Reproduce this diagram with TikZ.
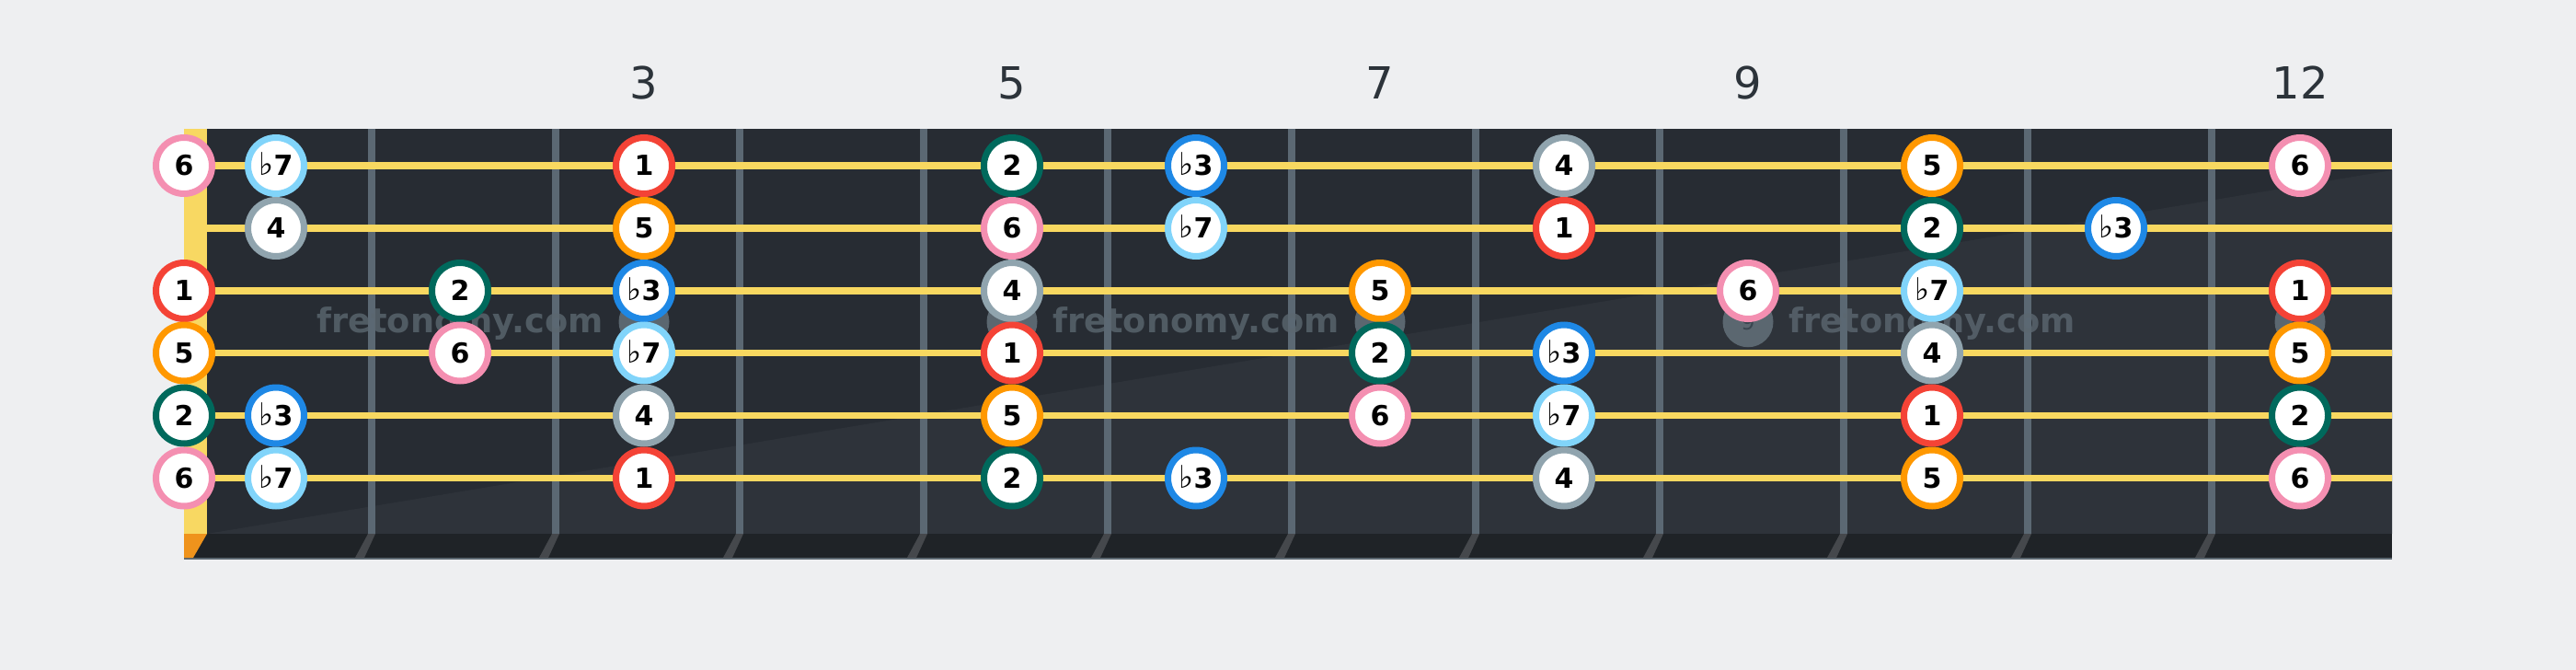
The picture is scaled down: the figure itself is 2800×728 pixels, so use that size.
\documentclass[tikz,border=0pt]{standalone}
\usepackage{fontspec}
\setmainfont{DejaVu Sans}
\usepackage{tikz}
\usetikzlibrary{positioning}
\usetikzlibrary{backgrounds}
\definecolor{bgcol}{HTML}{EEEFF1}
\definecolor{boardcol}{HTML}{272C33}
\definecolor{boardlight}{HTML}{2E333A}
\definecolor{footcol}{HTML}{1F2327}
\definecolor{fretcol}{HTML}{5B6873}
\definecolor{fretfootcol}{HTML}{45484C}
\definecolor{strcol}{HTML}{F8D860}
\definecolor{nutcol}{HTML}{F8D862}
\definecolor{nutfootcol}{HTML}{EF931C}
\definecolor{dotcol}{HTML}{5B6770}
\definecolor{dottext}{HTML}{3A4650}
\definecolor{numcol}{HTML}{2C333A}
\definecolor{col1}{HTML}{F44336}
\definecolor{col2}{HTML}{00695C}
\definecolor{col3}{HTML}{1E88E5}
\definecolor{col4}{HTML}{90A4AE}
\definecolor{col5}{HTML}{FF9800}
\definecolor{col6}{HTML}{F48FB1}
\definecolor{col7}{HTML}{81D4FA}
\newcommand{\flatsign}{{\mdseries\fontsize{34}{34}\selectfont ♭}}

\begin{document}
\begin{tikzpicture}[
  x = 1pt,
  y = -1pt,
  note/.style = {
    draw,
    circle,
    fill = white,
    line width = 7pt,
    minimum size = 61pt,
    inner sep = 0pt,
    text height = 21.5pt,
    text depth = 0pt,
    font = \bfseries\fontsize{30}{30}\selectfont,
  },
  deg1/.style = {note, draw = col1},
  deg2/.style = {note, draw = col2},
  deg3/.style = {note, draw = col3},
  deg4/.style = {note, draw = col4},
  deg5/.style = {note, draw = col5},
  deg6/.style = {note, draw = col6},
  deg7/.style = {note, draw = col7},
  gstring/.style = {
    draw = strcol,
    line width = 7.5pt,
  },
  fretwire/.style = {
    draw = fretcol,
    line width = 8pt,
  },
  fretfoot/.style = {
    fill = fretfootcol,
  },
  inlay/.style = {
    circle,
    fill = dotcol,
    minimum size = 55pt,
    inner sep = 0pt,
    text = dottext,
    font = \fontsize{24}{24}\selectfont,
  },
  fretnum/.style = {
    text = numcol,
    inner sep = 0pt,
    text depth = 0pt,
    font = \fontsize{48}{48}\selectfont,
  },
  wmark/.style = {
    text = dotcol,
    opacity = 0.8,
    inner sep = 0pt,
    anchor = base,
    font = \bfseries\fontsize{36.7}{36.7}\selectfont,
  },
]

  % page and board
  \fill[bgcol] (0,0) rectangle (2800,728);
  \fill[boardcol] (225,140) rectangle (2600,580);
  \fill[boardlight] (225,580) -- (2600,185) -- (2600,580) -- cycle;
  \fill[footcol] (200,580) rectangle (2600,608);
  \draw[dotcol, line width = 2pt] (200,607) -- (2600,607);
  \fill[nutcol] (200,140) rectangle (225,580);
  \fill[nutfootcol] (200,580) -- (225,580) -- (210,606) -- (200,606) -- cycle;

  % frets
  \draw[fretwire] (404,140) -- (404,580);
  \draw[fretwire] (604,140) -- (604,580);
  \draw[fretwire] (804,140) -- (804,580);
  \draw[fretwire] (1004,140) -- (1004,580);
  \draw[fretwire] (1204,140) -- (1204,580);
  \draw[fretwire] (1404,140) -- (1404,580);
  \draw[fretwire] (1604,140) -- (1604,580);
  \draw[fretwire] (1804,140) -- (1804,580);
  \draw[fretwire] (2004,140) -- (2004,580);
  \draw[fretwire] (2204,140) -- (2204,580);
  \draw[fretwire] (2404,140) -- (2404,580);
  \fill[fretfoot] (400,580) -- (408,580) -- (396,606) -- (386,606) -- cycle;
  \fill[fretfoot] (600,580) -- (608,580) -- (596,606) -- (586,606) -- cycle;
  \fill[fretfoot] (800,580) -- (808,580) -- (796,606) -- (786,606) -- cycle;
  \fill[fretfoot] (1000,580) -- (1008,580) -- (996,606) -- (986,606) -- cycle;
  \fill[fretfoot] (1200,580) -- (1208,580) -- (1196,606) -- (1186,606) -- cycle;
  \fill[fretfoot] (1400,580) -- (1408,580) -- (1396,606) -- (1386,606) -- cycle;
  \fill[fretfoot] (1600,580) -- (1608,580) -- (1596,606) -- (1586,606) -- cycle;
  \fill[fretfoot] (1800,580) -- (1808,580) -- (1796,606) -- (1786,606) -- cycle;
  \fill[fretfoot] (2000,580) -- (2008,580) -- (1996,606) -- (1986,606) -- cycle;
  \fill[fretfoot] (2200,580) -- (2208,580) -- (2196,606) -- (2186,606) -- cycle;
  \fill[fretfoot] (2400,580) -- (2408,580) -- (2396,606) -- (2386,606) -- cycle;

  % inlays
  \node[inlay] (dot3) at (700,349.75) {3};
  \node[inlay] (dot5) at (1100,349.75) {5};
  \node[inlay] (dot7) at (1500,349.75) {7};
  \node[inlay] (dot9) at (1900,349.75) {9};
  \node[inlay] (dot12) at (2500,349.75) {12};

  % watermark
  \node[wmark] (wm1) at (500,361) {fretonomy.com};
  \node[wmark] (wm2) at (1300,361) {fretonomy.com};
  \node[wmark] (wm3) at (2100,361) {fretonomy.com};

  % strings
  \draw[gstring] (225,180) -- (2600,180);
  \draw[gstring] (225,248) -- (2600,248);
  \draw[gstring] (225,316) -- (2600,316);
  \draw[gstring] (225,383.5) -- (2600,383.5);
  \draw[gstring] (225,451.5) -- (2600,451.5);
  \draw[gstring] (225,519.5) -- (2600,519.5);

  % fret numbers
  \node[fretnum] (num3) at (700,90) {3};
  \node[fretnum] (num5) at (1100,90) {5};
  \node[fretnum] (num7) at (1500,90) {7};
  \node[fretnum] (num9) at (1900,90) {9};
  \node[fretnum] (num12) at (2500,90) {12};

  % string 1
  \node[deg6] (s1f0) at (200,180) {6};
  \node[deg7] (s1f1) at (300,180) {\flatsign7};
  \node[deg1] (s1f3) at (700,180) {1};
  \node[deg2] (s1f5) at (1100,180) {2};
  \node[deg3] (s1f6) at (1300,180) {\flatsign3};
  \node[deg4] (s1f8) at (1700,180) {4};
  \node[deg5] (s1f10) at (2100,180) {5};
  \node[deg6] (s1f12) at (2500,180) {6};

  % string 2
  \node[deg4] (s2f1) at (300,248) {4};
  \node[deg5] (s2f3) at (700,248) {5};
  \node[deg6] (s2f5) at (1100,248) {6};
  \node[deg7] (s2f6) at (1300,248) {\flatsign7};
  \node[deg1] (s2f8) at (1700,248) {1};
  \node[deg2] (s2f10) at (2100,248) {2};
  \node[deg3] (s2f11) at (2300,248) {\flatsign3};

  % string 3
  \node[deg1] (s3f0) at (200,316) {1};
  \node[deg2] (s3f2) at (500,316) {2};
  \node[deg3] (s3f3) at (700,316) {\flatsign3};
  \node[deg4] (s3f5) at (1100,316) {4};
  \node[deg5] (s3f7) at (1500,316) {5};
  \node[deg6] (s3f9) at (1900,316) {6};
  \node[deg7] (s3f10) at (2100,316) {\flatsign7};
  \node[deg1] (s3f12) at (2500,316) {1};

  % string 4
  \node[deg5] (s4f0) at (200,383.5) {5};
  \node[deg6] (s4f2) at (500,383.5) {6};
  \node[deg7] (s4f3) at (700,383.5) {\flatsign7};
  \node[deg1] (s4f5) at (1100,383.5) {1};
  \node[deg2] (s4f7) at (1500,383.5) {2};
  \node[deg3] (s4f8) at (1700,383.5) {\flatsign3};
  \node[deg4] (s4f10) at (2100,383.5) {4};
  \node[deg5] (s4f12) at (2500,383.5) {5};

  % string 5
  \node[deg2] (s5f0) at (200,451.5) {2};
  \node[deg3] (s5f1) at (300,451.5) {\flatsign3};
  \node[deg4] (s5f3) at (700,451.5) {4};
  \node[deg5] (s5f5) at (1100,451.5) {5};
  \node[deg6] (s5f7) at (1500,451.5) {6};
  \node[deg7] (s5f8) at (1700,451.5) {\flatsign7};
  \node[deg1] (s5f10) at (2100,451.5) {1};
  \node[deg2] (s5f12) at (2500,451.5) {2};

  % string 6
  \node[deg6] (s6f0) at (200,519.5) {6};
  \node[deg7] (s6f1) at (300,519.5) {\flatsign7};
  \node[deg1] (s6f3) at (700,519.5) {1};
  \node[deg2] (s6f5) at (1100,519.5) {2};
  \node[deg3] (s6f6) at (1300,519.5) {\flatsign3};
  \node[deg4] (s6f8) at (1700,519.5) {4};
  \node[deg5] (s6f10) at (2100,519.5) {5};
  \node[deg6] (s6f12) at (2500,519.5) {6};

\end{tikzpicture}
\end{document}
